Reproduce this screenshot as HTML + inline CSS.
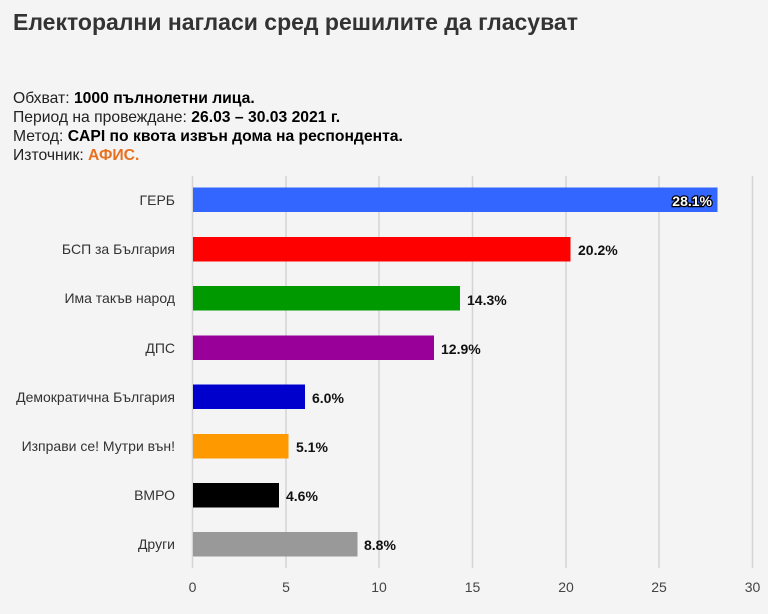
<!DOCTYPE html>
<html><head><meta charset="utf-8"><style>
body{margin:0;background:#f4f4f4;}
svg{display:block;font-family:"Liberation Sans",Arial,sans-serif;}
</style></head><body>
<svg width="768" height="614" xmlns="http://www.w3.org/2000/svg">
<rect width="768" height="614" fill="#f4f4f4"/>
<text x="13" y="30" font-size="23" font-weight="bold" fill="#333" textLength="565" lengthAdjust="spacingAndGlyphs">Електорални нагласи сред решилите да гласуват</text>
<g font-size="15.7" fill="#222">
<text x="13" y="103">Обхват: <tspan font-weight="bold" fill="#000">1000 пълнолетни лица.</tspan></text>
<text x="13" y="122">Период на провеждане: <tspan font-weight="bold" fill="#000">26.03 – 30.03 2021 г.</tspan></text>
<text x="13" y="141">Метод: <tspan font-weight="bold" fill="#000">CAPI по квота извън дома на респондента.</tspan></text>
<text x="13" y="160">Източник: <tspan font-weight="bold" fill="#e8711f">АФИС.</tspan></text>
</g>
<g stroke="#d4d4d4" stroke-width="1.5">
<line x1="192.5" y1="176" x2="192.5" y2="568"/>
<line x1="286" y1="176" x2="286" y2="568"/>
<line x1="379" y1="176" x2="379" y2="568"/>
<line x1="472.5" y1="176" x2="472.5" y2="568"/>
<line x1="566" y1="176" x2="566" y2="568"/>
<line x1="659" y1="176" x2="659" y2="568"/>
<line x1="752.5" y1="176" x2="752.5" y2="568"/>
</g>
<g font-size="14" fill="#444" text-anchor="middle">
<text x="192.5" y="592">0</text><text x="286" y="592">5</text><text x="379" y="592">10</text>
<text x="472.5" y="592">15</text><text x="566" y="592">20</text><text x="659" y="592">25</text><text x="752.5" y="592">30</text>
</g>
<g font-size="14" fill="#333" text-anchor="end">
<text x="175" y="205">ГЕРБ</text>
<text x="175" y="254">БСП за България</text>
<text x="175" y="303">Има такъв народ</text>
<text x="175" y="353">ДПС</text>
<text x="175" y="402">Демократична България</text>
<text x="175" y="451">Изправи се! Мутри вън!</text>
<text x="175" y="500">ВМРО</text>
<text x="175" y="549">Други</text>
</g>
<rect x="193" y="187.5" width="524.5" height="24.5" fill="#3366ff"/>
<rect x="193" y="237" width="377.5" height="24.5" fill="#ff0000"/>
<rect x="193" y="286" width="267" height="24.5" fill="#009900"/>
<rect x="193" y="335.5" width="241" height="24.5" fill="#990099"/>
<rect x="193" y="384.5" width="112" height="24.5" fill="#0000cc"/>
<rect x="193" y="434" width="95.5" height="24.5" fill="#ff9900"/>
<rect x="193" y="483" width="86" height="24.5" fill="#000000"/>
<rect x="193" y="532" width="164.5" height="24.5" fill="#999999"/>
<text x="712" y="206" font-size="14" font-weight="bold" fill="#fff" stroke="#000" stroke-width="2.5" paint-order="stroke" text-anchor="end">28.1%</text>
<g font-size="14" font-weight="bold" fill="#111">
<text x="578" y="255">20.2%</text>
<text x="467" y="305">14.3%</text>
<text x="441" y="354">12.9%</text>
<text x="312" y="403">6.0%</text>
<text x="296" y="452">5.1%</text>
<text x="286" y="501">4.6%</text>
<text x="364" y="550">8.8%</text>
</g>
</svg>
</body></html>
